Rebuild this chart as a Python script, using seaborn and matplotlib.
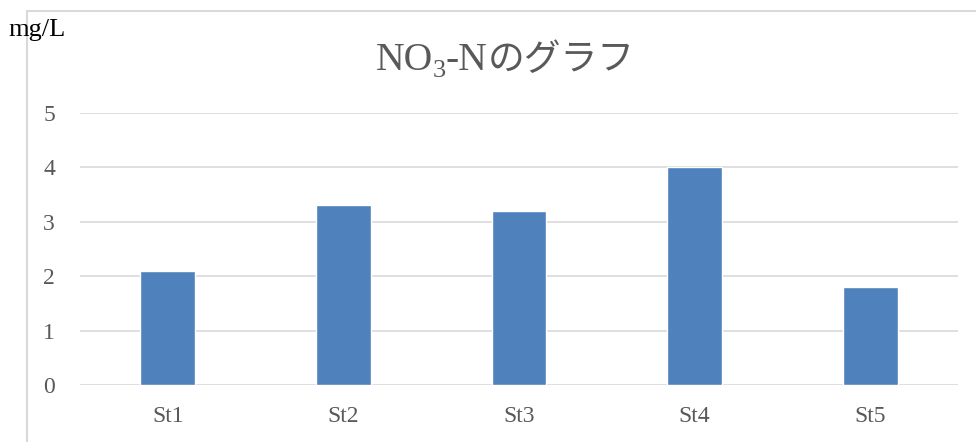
import matplotlib
matplotlib.use("Agg")
import matplotlib.pyplot as plt
import seaborn as sns
import pandas as pd
from matplotlib.lines import Line2D

# NO3-N concentration per station (mg/L)
stations = ["St1", "St2", "St3", "St4", "St5"]
no3n = [2.1, 3.3, 3.2, 4.0, 1.8]
yticks = [0, 1, 2, 3, 4, 5]

sns.set_theme(style="white")
plt.rcParams['font.family'] = ['Liberation Serif', 'Noto Sans CJK JP']

W, H = 976, 442
fig = plt.figure(figsize=(W / 100, H / 100), dpi=100)
fig.patch.set_facecolor("white")

ax = fig.add_axes([80 / W, 1 - 385 / H, 878 / W, 272 / H])
df = pd.DataFrame({"station": stations, "value": no3n})
sns.barplot(data=df, x="station", y="value", color="#4F81BD",
            width=0.313, saturation=1, ax=ax, zorder=3)

ax.set_ylim(0, 5)
ax.set_xlim(-0.5, len(stations) - 0.5)
ax.set_yticks(yticks)
ax.set_xlabel("")
ax.set_ylabel("")
for s in ax.spines.values():
    s.set_visible(False)
ax.yaxis.grid(True, color="#D9D9D9", linewidth=1.2, zorder=0)
ax.set_axisbelow(True)
ax.tick_params(axis="both", length=0, labelsize=17, labelcolor="#595959")
ax.tick_params(axis="y", pad=18)
ax.tick_params(axis="x", pad=15)

# chart frame (left and top edges)
fx = 27 / W
fy = 1 - 11 / H
fig.add_artist(Line2D([fx, fx], [0, fy], color="#D9D9D9", lw=1.5, transform=fig.transFigure))
fig.add_artist(Line2D([fx, 1], [fy, fy], color="#D9D9D9", lw=1.5, transform=fig.transFigure))

# unit label
fig.text(8 / W, 1 - 30 / H, "mg/L", ha="left", va="center", fontsize=19, color="black")

# title with subscript, assembled piece by piece
pieces = [("NO", 28.5, 0), ("3", 19, -7), ("-N", 28.5, 0), ("のグラフ", 26.5, 0)]
renderer = fig.canvas.get_renderer()
widths = []
for txt, sz, _ in pieces:
    t = fig.text(0, 0, txt, fontsize=sz)
    widths.append(t.get_window_extent(renderer).width)
    t.remove()
total = sum(widths)
x = 505 - total / 2
base = H - 70
for (txt, sz, dy), w in zip(pieces, widths):
    fig.text(x / W, (base + dy) / H, txt, fontsize=sz, color="#595959",
             ha="left", va="baseline")
    x += w

fig.savefig("out.png", dpi=100, facecolor="white")
